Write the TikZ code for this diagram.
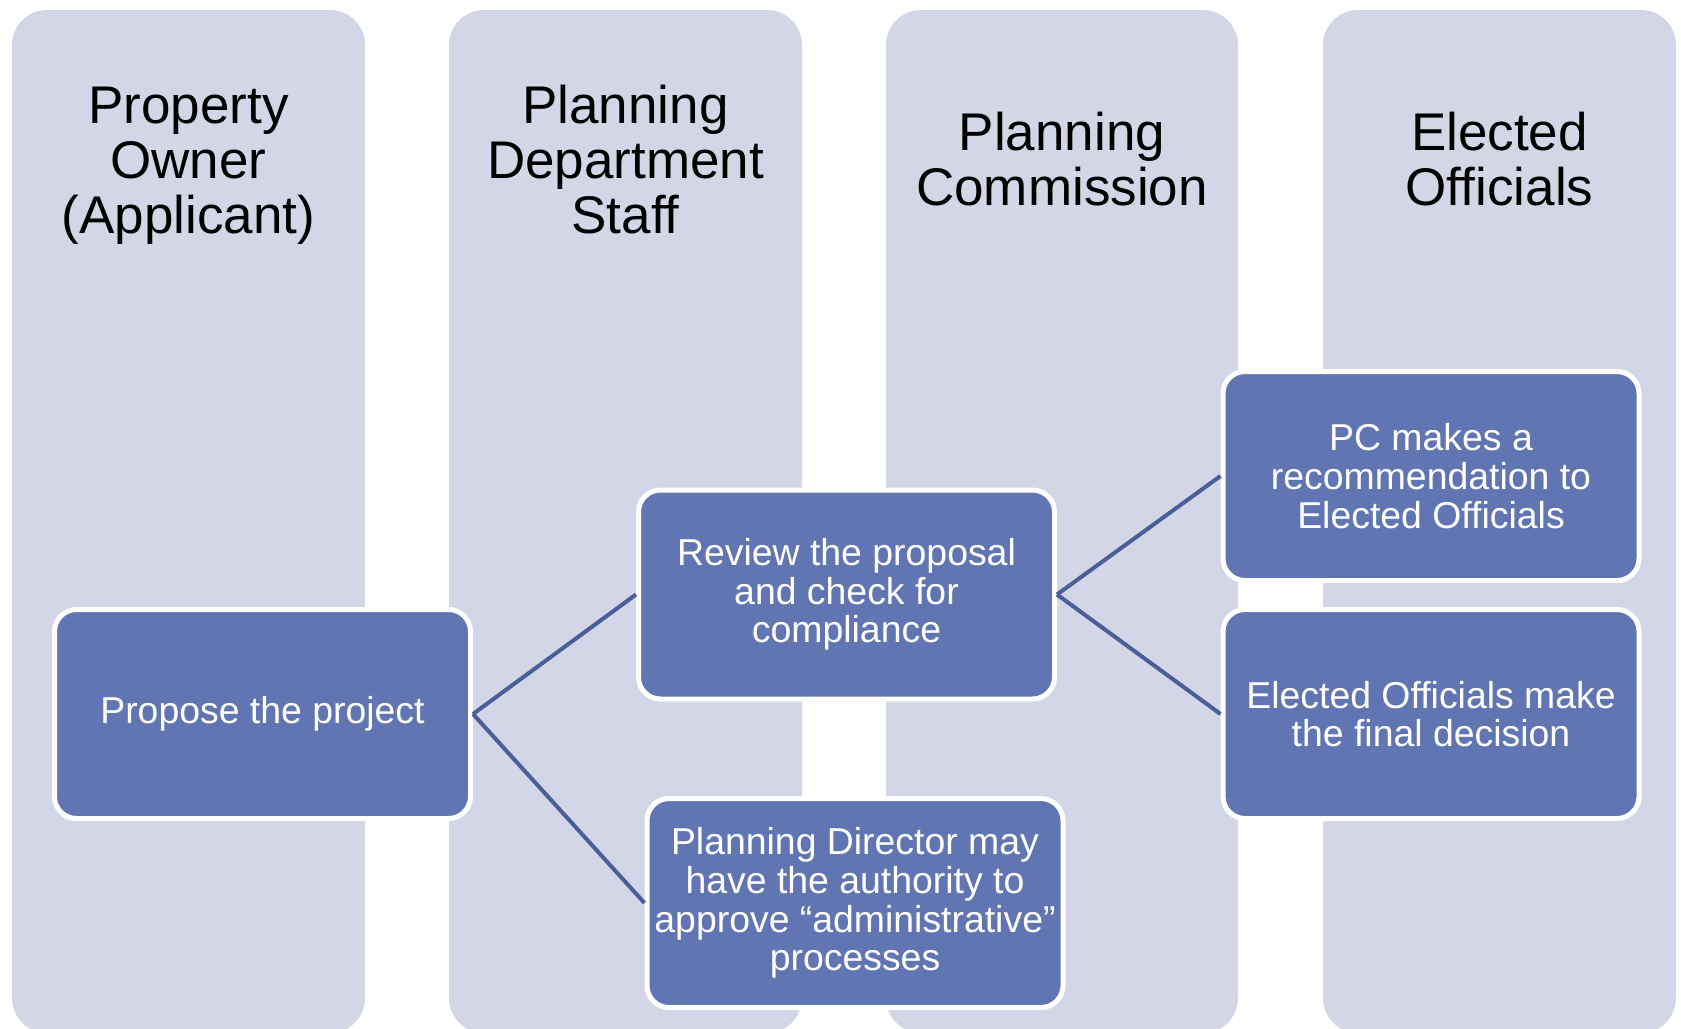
\documentclass[tikz,border=0pt]{standalone}
\usepackage{fontspec}
\setmainfont{Liberation Sans}
\definecolor{lanefill}{RGB}{210,214,230}
\definecolor{boxfill}{RGB}{97,117,178}
\definecolor{linkcol}{RGB}{74,94,153}
\begin{document}
\begin{tikzpicture}[x=1pt,y=-1pt,
  lane/.style={fill=lanefill,draw=none,rounded corners=35pt},
  lanehead/.style={anchor=base,align=center,text=black,
    font=\fontsize{53pt}{55pt}\selectfont},
  stepbox/.style={draw=white,line width=5pt,fill=boxfill,rounded corners=22pt,
    minimum width=416pt,minimum height=209pt,inner sep=0pt,align=center,
    text=white,font=\fontsize{37.4pt}{38.7pt}\selectfont},
  link/.style={draw=linkcol,line width=4pt}]
\useasboundingbox (0,0) rectangle (1681,1028);
% swim lanes
\fill[lane] (12,10) rectangle (365,1033);
\fill[lane] (449,10) rectangle (802,1033);
\fill[lane] (886,10) rectangle (1238,1033);
\fill[lane] (1323,10) rectangle (1676,1033);
% lane titles (anchored at the baseline of the last line)
\node[lanehead] (h1) at (188.5,233) {Property\\Owner\\(Applicant)};
\node[lanehead] (h2) at (625.5,233) {Planning\\Department\\Staff};
\node[lanehead] (h3) at (1062,205.5) {Planning\\Commission};
\node[lanehead] (h4) at (1499.5,205.5) {Elected\\Officials};
% process steps
\node[stepbox] (prop) at (262.5,714) {Propose the project};
\node[stepbox] (rev) at (846.5,594.5) {Review the proposal\\and check for\\compliance};
\node[stepbox] (dir) at (855,903) {Planning Director may\\have the authority to\\approve “administrative”\\processes};
\node[stepbox] (pc) at (1431,476) {PC makes a\\recommendation to\\Elected Officials};
\node[stepbox] (eo) at (1431,714) {Elected Officials make\\the final decision};
% connectors
\draw[link] (prop.east) -- (rev.west);
\draw[link] (prop.east) -- (dir.west);
\draw[link] (rev.east) -- (pc.west);
\draw[link] (rev.east) -- (eo.west);
\end{tikzpicture}
\end{document}
